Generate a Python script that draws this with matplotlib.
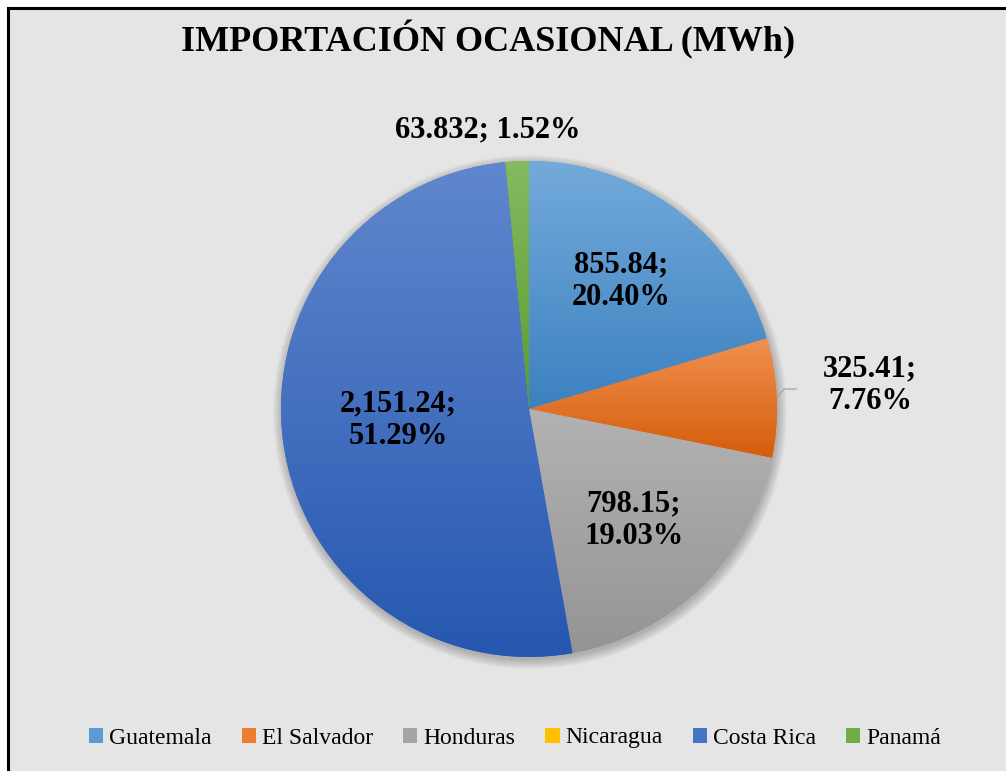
import numpy as np
import matplotlib
matplotlib.use("Agg")
import matplotlib.pyplot as plt
from matplotlib.patches import Patch, Rectangle, Circle
from matplotlib.colors import to_rgb

# datos
paises = ["Guatemala", "El Salvador", "Honduras", "Nicaragua", "Costa Rica", "Panamá"]
valores = [855.84, 325.41, 798.15, 0.0, 2151.24, 63.832]
etiquetas_valor = ["855.84", "325.41", "798.15", "0", "2,151.24", "63.832"]
colores = ["#5B9BD5", "#ED7D31", "#A5A5A5", "#FFC000", "#4472C4", "#70AD47"]

W, H = 1006, 771
plt.rcParams["font.family"] = ["Liberation Serif", "DejaVu Serif"]

fig = plt.figure(figsize=(W / 100, H / 100), dpi=100)
fig.patch.set_facecolor("white")

# fondo con borde (recortado a la derecha y abajo)
fondo = Rectangle((8 / W, -0.05), 1.1, (H - 8) / H + 0.05, transform=fig.transFigure,
                  facecolor="#e5e5e5", edgecolor="black", linewidth=2.2, zorder=-5)
fig.patches.append(fondo)

fig.text(488 / W, 1 - 40 / H, "IMPORTACIÓN OCASIONAL (MWh)", ha="center", va="center",
         fontsize=26, fontweight="bold")

# pie axes: centro (529, 409), radio 248 px
cx, cy, r = 529, 409, 248
ax = fig.add_axes([(cx - r) / W, (H - cy - r) / H, 2 * r / W, 2 * r / H], zorder=1)
ax.set_aspect("equal")
ax.axis("off")

# sombra suave
for i in range(10):
    ax.add_patch(Circle((0.004, -0.012), 1.0 + i * 0.004, facecolor="black",
                        alpha=0.025, linewidth=0, zorder=0, clip_on=False))

wedges, _ = ax.pie(valores, startangle=90, counterclock=False, colors=colores,
                   radius=1.0, wedgeprops=dict(linewidth=0))


def mezcla(c, f):
    c = np.array(to_rgb(c))
    if f > 0:
        return c + (1 - c) * f
    # oscurecer manteniendo la saturacion (estilo Excel)
    m = c.max()
    return np.clip((c - m) * (1 - f * 0.8) + m * (1 + f), 0, 1)


# degradado vertical por sector
for w, c in zip(wedges, colores):
    if w.theta2 - w.theta1 <= 0:
        continue
    ang = np.radians(np.linspace(w.theta1, w.theta2, 50))
    ys = np.concatenate([[0], np.sin(ang)])
    y0, y1 = ys.min(), ys.max()
    t = np.linspace(0, 1, 256)[:, None]
    top = mezcla(c, 0.15)
    bot = mezcla(c, -0.1)
    grad = top[None, None, :] * (1 - t[:, :, None]) + bot[None, None, :] * t[:, :, None]
    grad = np.repeat(grad, 2, axis=1)
    im = ax.imshow(grad, extent=[-1, 1, y0, y1], origin="upper", aspect="auto", zorder=2)
    im.set_clip_path(w)
ax.set_xlim(-1, 1)
ax.set_ylim(-1, 1)

# etiquetas de datos
total = sum(valores)
pos_etq = {0: (621, 281), 1: (870, 385), 2: (634, 520), 4: (398, 420), 5: (488, 130)}
for i, (x, y) in pos_etq.items():
    pct = valores[i] / total * 100
    if i == 5:
        txt = f"{etiquetas_valor[i]}; {pct:.2f}%"
    else:
        txt = f"{etiquetas_valor[i]};\n{pct:.2f}%"
    fig.text(x / W, 1 - y / H, txt, ha="center", va="center", fontsize=22,
             fontweight="bold", linespacing=1.15, zorder=5)

# linea guia El Salvador
fig.add_artist(plt.Line2D([778 / W, 784 / W, 796 / W], [1 - 396 / H, 1 - 389 / H, 1 - 389 / H],
                          color="#a6a6a6", linewidth=1, zorder=5))

# leyenda
handles = [Patch(facecolor=c, edgecolor="none") for c in colores]
fig.legend(handles, paises, loc="center", bbox_to_anchor=(515 / W, 1 - 738 / H), ncol=6,
           frameon=False, fontsize=17, handlelength=0.6, handleheight=0.6,
           handletextpad=0.25, columnspacing=1.28)

fig.savefig("out.png", dpi=100)
